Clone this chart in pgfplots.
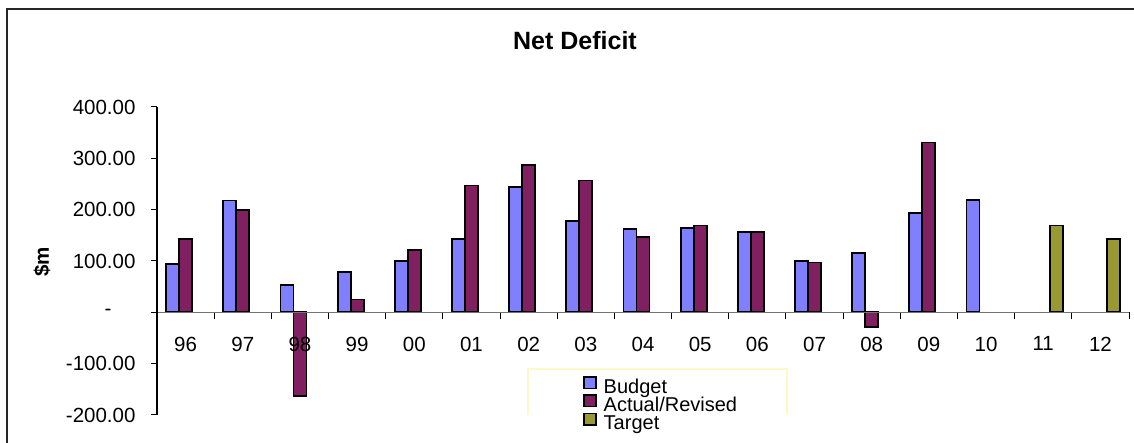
\documentclass[border=0pt]{standalone}
\usepackage{fontspec}
\setmainfont{Liberation Sans}
\usepackage{pgfplots}
\pgfplotsset{compat=1.18}

\definecolor{budget}{RGB}{128,128,255}
\definecolor{actual}{RGB}{128,32,96}
\definecolor{target}{RGB}{153,153,51}
\definecolor{legendframe}{RGB}{250,250,200}

\pgfplotsset{
  sq legend/.style={legend image code/.code={%
      \draw[##1, line width=1.5pt] (0pt,0pt) rectangle (12pt,11.5pt);}},
}

\begin{document}
\begin{tikzpicture}[x=1pt,y=1pt]
\useasboundingbox (0,0) rectangle (1134,443);
\fill[white] (0,0) rectangle (1134,443);
% chart area frame
\draw[line width=1.6pt, black!85] (7,-2) -- (7,434) -- (1136,434);
% title and value-axis label
\node[font=\fontsize{25}{30}\selectfont\bfseries] at (575,402.5) {Net Deficit};
\node[font=\fontsize{20.5}{24}\selectfont\bfseries, rotate=90] at (42,181) {\$m};

\begin{axis}[
  at={(157pt,28pt)}, anchor=south west,
  scale only axis, width=972pt, height=308pt,
  xmin=-0.5, xmax=16.5, ymin=-200, ymax=400,
  axis on top,
  axis x line=middle, axis y line=left,
  axis line style={-},
  x axis line style={draw=black!55, line width=1.1pt},
  y axis line style={draw=black, line width=1.1pt},
  hide obscured x ticks=false, hide obscured y ticks=false,
  xtick={0,...,16},
  xticklabels={96,97,98,99,00,01,02,03,04,05,06,07,08,09,10,11,12},
  major x tick style={draw=none},
  minor xtick={-0.5,0.5,...,16.5},
  minor tick length=7pt,
  xtick align=outside, ytick align=outside,
  ytick={-200,-100,0,100,200,300,400},
  yticklabels={-200.00,-100.00,{-\kern24pt},100.00,200.00,300.00,400.00},
  major tick length=6pt,
  tick style={black, line width=1pt},
  tick label style={font=\fontsize{20.5}{24}\selectfont},
  xticklabel style={yshift=-15pt},
  yticklabel style={xshift=-12pt},
  ybar=0pt, bar width=13pt,
  legend cell align=left,
  legend style={draw=none, fill=none, inner sep=0pt,
    at={(0.4383,0.1266)}, anchor=north west,
    font=\fontsize{20}{24}\selectfont,
    nodes={inner sep=0pt, inner xsep=0pt, text height=14pt, text depth=4.3pt},
    row sep=-3.2pt,
    /tikz/every odd column/.append style={column sep=7pt}},
]
\draw[legendframe, line width=1.5pt]
  (rel axis cs:0.3817,0.1494) rectangle (rel axis cs:0.6481,-0.0714);

% Budget
\addplot[fill=budget, draw=black, line width=1.8pt, sq legend] coordinates {
  (0,94) (1,218) (2,53) (3,78) (4,100) (5,143) (6,244) (7,178)
  (8,162) (9,165) (10,156) (11,100) (12,116) (13,194) (14,219)};
% Actual / revised
\addplot[fill=actual, draw=black, line width=1.8pt, sq legend] coordinates {
  (0,143) (1,200) (2,-163) (3,25) (4,122) (5,247) (6,287) (7,257)
  (8,147) (9,169) (10,156) (11,97) (12,-29) (13,331)};
% Target
\addplot[fill=target, draw=black, line width=1.8pt, sq legend] coordinates {
  (15,169) (16,143)};
\legend{Budget,Actual/Revised,Target}
\end{axis}
\end{tikzpicture}
\end{document}
